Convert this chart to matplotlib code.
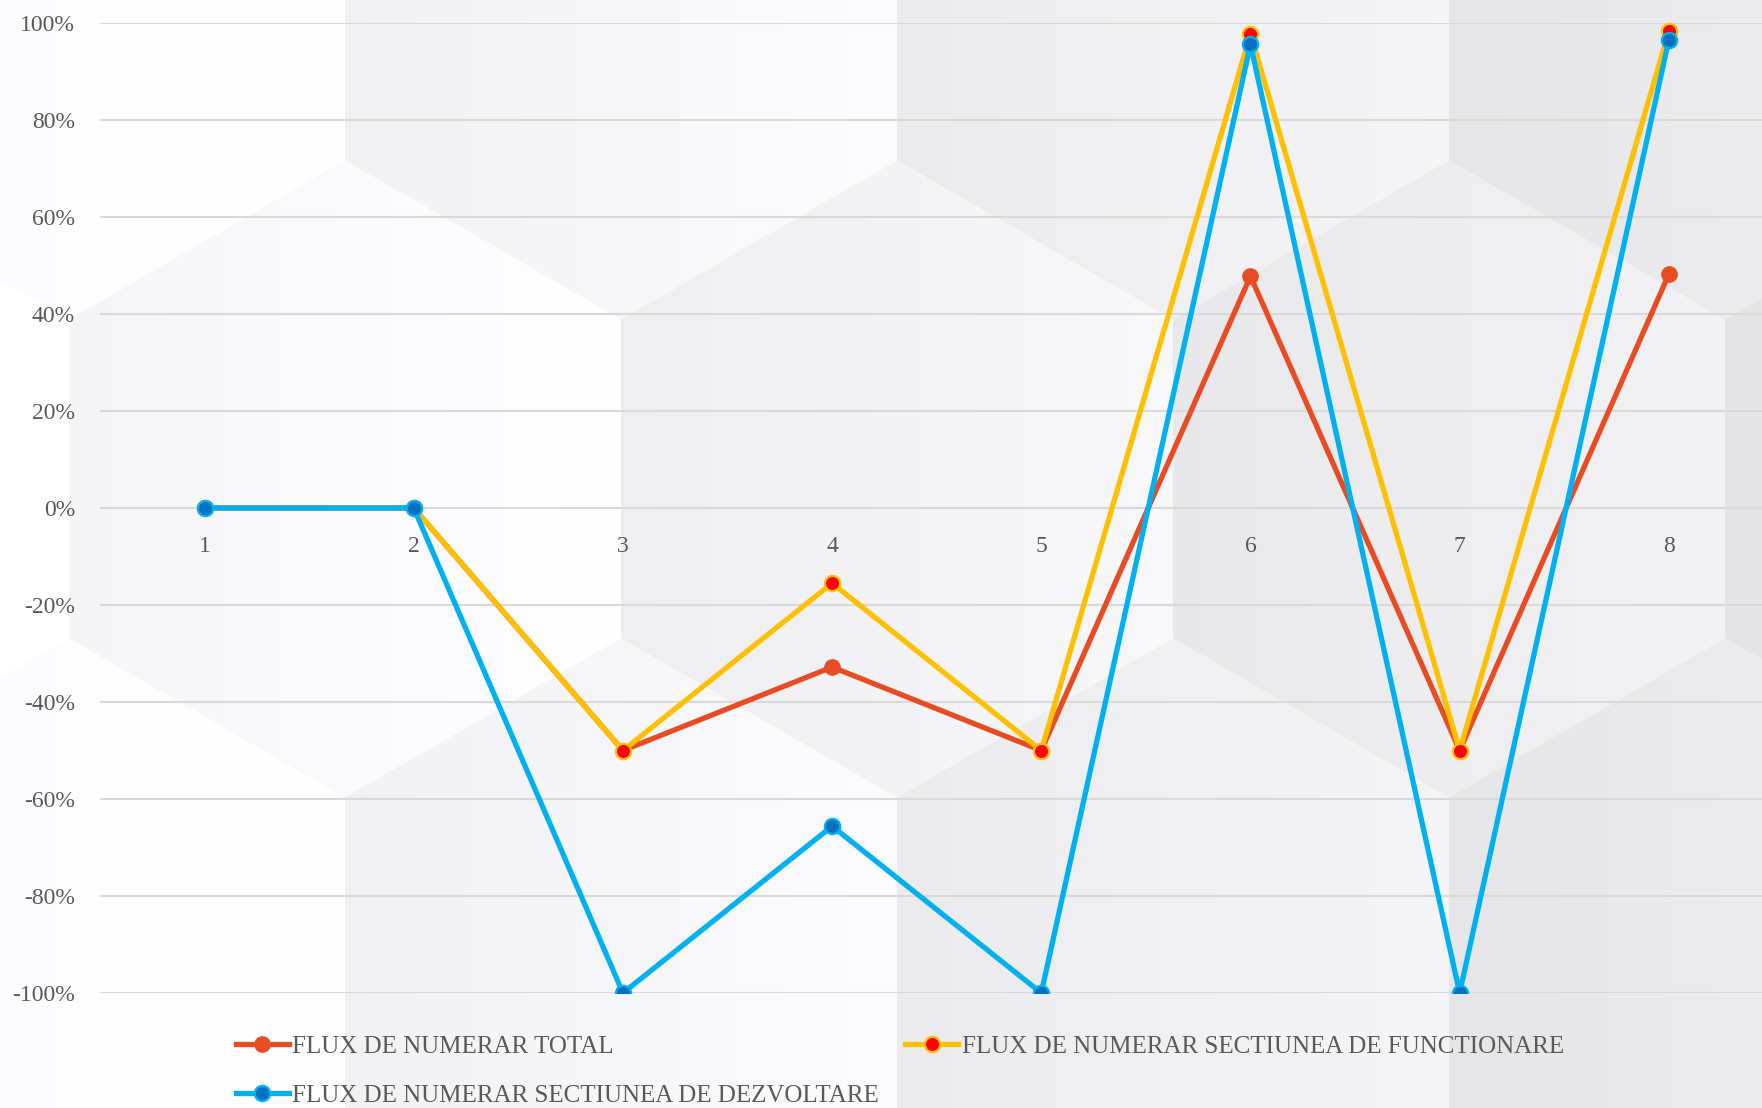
import numpy as np
import matplotlib
matplotlib.use("Agg")
import matplotlib.pyplot as plt
from matplotlib.patches import Polygon
from matplotlib.ticker import FuncFormatter

plt.rcParams['font.family'] = ['Liberation Serif', 'DejaVu Serif']
plt.rcParams['axes.unicode_minus'] = False

# data (percent)
periods = [1, 2, 3, 4, 5, 6, 7, 8]
flux_total = [0, 0, -50, -32.8, -50, 47.8, -50, 48.2]
flux_functionare = [0, 0, -50, -15.5, -50, 97.8, -50, 98.3]
flux_dezvoltare = [0, 0, -100, -65.6, -100, 95.6, -100, 96.5]
labels = ["FLUX DE NUMERAR TOTAL",
          "FLUX DE NUMERAR SECTIUNEA DE FUNCTIONARE",
          "FLUX DE NUMERAR SECTIUNEA DE DEZVOLTARE"]

W, H = 1762, 1108
fig = plt.figure(figsize=(W / 100, H / 100), dpi=100)

# background: soft hexagon (cube) pattern
bg = fig.add_axes([0, 0, 1, 1], zorder=-1)
bg.set_xlim(0, W)
bg.set_ylim(H, 0)
bg.axis('off')
hw = 276.0            # half width of a hexagon
side = 2 * hw / np.sqrt(3)
shade_x = [-207, 69, 345, 621, 897, 1173, 1449, 1725, 2001]
shade_l = [1.0, 0.985, 0.962, 0.948, 0.935, 0.922, 0.912, 0.902, 0.895]
centers = []
for cy, xs in [(1, [69, 621, 1173, 1725]), (479, [-207, 345, 897, 1449, 2001]),
               (957, [69, 621, 1173, 1725])]:
    centers += [(cx, cy) for cx in xs]
for cx, cy in centers:
    verts = [(cx, cy - side), (cx + hw, cy - side / 2), (cx + hw, cy + side / 2),
             (cx, cy + side), (cx - hw, cy + side / 2), (cx - hw, cy - side / 2)]
    poly = Polygon(verts, closed=True, facecolor='none', edgecolor='none')
    bg.add_patch(poly)
    left = np.interp(cx, shade_x, shade_l)
    g = np.linspace(left, min(left + 0.04, 1.0), 64)
    img = np.stack([g, g, np.minimum(g + 0.008, 1.0)], axis=-1)[None, :, :]
    im = bg.imshow(img, extent=[cx - hw, cx + hw, cy + side, cy - side],
                   aspect='auto', interpolation='bilinear')
    im.set_clip_path(poly)
bg.set_xlim(0, W)
bg.set_ylim(H, 0)

ax = fig.add_axes([100 / W, 1 - 993 / H, 1673.4 / W, 970 / H])
ax.patch.set_alpha(0)

ax.plot(periods, flux_total, color='#E84C22', lw=3.8, marker='o', ms=11,
        mfc='#E84C22', mec='#E84C22', label=labels[0], solid_joinstyle='round')
ax.plot(periods, flux_functionare, color='#FFC000', lw=3.8, marker='o', ms=11,
        mfc='#FF0000', mec='#FFC000', mew=1.6, label=labels[1], solid_joinstyle='round')
ax.plot(periods, flux_dezvoltare, color='#00B0F0', lw=3.8, marker='o', ms=11,
        mfc='#0070C0', mec='#00B0F0', mew=1.6, label=labels[2], solid_joinstyle='round')

ax.set_xlim(0.5, 8.5)
ax.set_ylim(-100, 100)
ax.set_yticks(np.arange(-100, 101, 20))
ax.set_xticks(periods)
ax.yaxis.set_major_formatter(FuncFormatter(lambda v, p: f"{v:.0f}%"))
ax.grid(axis='y', color='#D9D9D9', lw=1.5)
ax.set_axisbelow(True)
for s in ax.spines.values():
    s.set_visible(False)
ax.spines['bottom'].set_position(('data', 0))
ax.tick_params(axis='y', length=0, pad=18, labelsize=17, labelcolor='#595959')
ax.tick_params(axis='x', length=0, pad=20, labelsize=17, labelcolor='#595959')

h, l = ax.get_legend_handles_labels()
order = [0, 2, 1]
fig.legend([h[i] for i in order], [l[i] for i in order], ncol=2,
           loc='center left', bbox_to_anchor=(236 / W, 1 - 1071 / H),
           frameon=False, fontsize=18, labelcolor='#595959',
           handlelength=2.1, handletextpad=0.15, columnspacing=1.05,
           labelspacing=1.05, borderpad=0, borderaxespad=0)

fig.savefig('out.png', dpi=100)
